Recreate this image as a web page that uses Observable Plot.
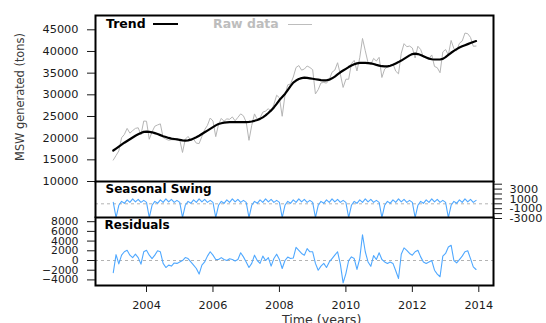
<!DOCTYPE html>
<html>
<head>
<meta charset="utf-8">
<script src="https://cdn.jsdelivr.net/npm/d3@7"></script>
<script src="https://cdn.jsdelivr.net/npm/@observablehq/plot@0.6"></script>
<style>
  body { margin: 0; background: #fff; }
  #chart { position: relative; width: 546px; height: 323px; overflow: hidden; font-family: "DejaVu Sans", sans-serif; background: #fff; }
  #chart svg { position: absolute; left: 0; }
  .lbl { position: absolute; white-space: nowrap; line-height: 1; }
  .key { position: absolute; height: 0; }
</style>
</head>
<body>
<div id="chart"></div>
<script>
// Monthly municipal solid waste series, January 2003 to December 2013,
// split into trend, a repeating seasonal swing and residuals.
const startYear = 2003;

const trend = [
  17150, 17600, 18050, 18500, 18950, 19350, 19750, 20150, 20550, 20900, 21200, 21450,
  21500, 21450, 21350, 21150, 20950, 20700, 20450, 20250, 20050, 19900, 19800, 19700,
  19600, 19500, 19450, 19500, 19650, 19900, 20200, 20550, 20950, 21350, 21750, 22150,
  22550, 22950, 23250, 23450, 23600, 23650, 23700, 23700, 23700, 23700, 23700, 23700,
  23700, 23750, 23850, 24000, 24200, 24450, 24800, 25250, 25800, 26400, 27100, 27900,
  28800, 29500, 30200, 31100, 32000, 32800, 33300, 33650, 33850, 33950, 33900, 33800,
  33700, 33600, 33500, 33400, 33350, 33350, 33500, 33800, 34200, 34700, 35200, 35600,
  36000, 36400, 36750, 37050, 37250, 37350, 37400, 37380, 37320, 37250, 37100, 36900,
  36750, 36600, 36550, 36550, 36700, 36950, 37250, 37550, 37900, 38300, 38700, 39100,
  39400, 39500, 39400, 39200, 38900, 38600, 38350, 38200, 38150, 38150, 38150, 38300,
  38700, 39200, 39700, 40150, 40550, 40900, 41200, 41450, 41700, 41950, 42200, 42400
];

// Seasonal swing, January to December
const seasonalByMonth = [300, -2800, -300, 500, 100, 800, 300, 1000, 400, 900, 300, 700];

const residuals = [
  -2500, 1200, -700, 1100, 1800, 2100, 1100, 600, 1300, 600, -750, 1800,
  2100, 1100, 400, 1100, 2000, 1800, -600, -1450, -950, -1150, -500, -600,
  -300, 0, 600, 400, -300, -950, -1650, -2800, -950, -300, 900, 1800,
  1100, 200, 200, 600, 200, 0, 350, 200, -100, 200, 1600, 750,
  -300, -1450, -600, 1100, 0, -600, 900, 0, 600, -1150, 400, 1300,
  200, -1650, 0, 700, 400, 500, 2700, 2100, 1450, 1100, 2450, 1800,
  1800, -600, -2000, -1150, -600, -1450, -300, 400, 1100, 1800, -750, -4600,
  -2700, 0, 750, 400, -1850, 400, 5300, 1800, -300, -1200, 1000, 200,
  1600, 200, -300, -600, -300, -600, -2100, -3700, 1300, 2600, 2100, 1450,
  1100, 1800, 2100, 750, -300, -600, -300, 0, -2000, -2800, -3350, 900,
  1450, 2800, 3150, 0, -500, 200, 900, 1800, 2000, 400, -1300, -1850
];

const trendTicks = [10000, 15000, 20000, 25000, 30000, 35000, 40000, 45000];
const seasonalTicks = [-3000, -2000, -1000, 0, 1000, 2000, 3000, 4000];
const seasonalTickLabels = [3000, 1000, -1000, -3000];
const residualTicks = [-4000, -2000, 0, 2000, 4000, 6000, 8000];
const yearTicks = [2004, 2006, 2008, 2010, 2012, 2014];

// Additive decomposition: raw = trend + seasonal + residual
const rows = trend.map((v, i) => ({
  t: startYear + i / 12,
  trend: v,
  seasonal: seasonalByMonth[i % 12],
  residual: residuals[i],
  raw: v + seasonalByMonth[i % 12] + residuals[i]
}));

const xDomain = [2002.465, 2014.442];
const fmt = d3.format("d");
const blue = "#4fa8ff";
const plotStyle = {
  fontFamily: "DejaVu Sans, sans-serif",
  fontSize: "11.3px",
  color: "#1a1a1a",
  background: "transparent",
  overflow: "visible"
};
const chart = document.getElementById("chart");

// Panel 1: raw data and trend
const trendPanel = Plot.plot({
  width: 546, height: 181,
  marginLeft: 95, marginRight: 53, marginTop: 15, marginBottom: 0,
  style: plotStyle,
  x: {domain: xDomain, axis: null},
  y: {domain: [10000, 48300]},
  marks: [
    Plot.line(rows, {x: "t", y: "raw", stroke: "#b5b5b5", strokeWidth: 1}),
    Plot.line(rows, {x: "t", y: "trend", stroke: "#000", strokeWidth: 2.2}),
    Plot.axisY({ticks: trendTicks, tickSize: 8, tickPadding: 9, tickFormat: fmt, label: null}),
    Plot.frame({stroke: "#000", strokeWidth: 2})
  ]
});
trendPanel.style.top = "0px";
chart.appendChild(trendPanel);

// Panel 2: seasonal swing, axis on the right
const seasonalPanel = Plot.plot({
  width: 546, height: 37,
  marginLeft: 95, marginRight: 53, marginTop: 0, marginBottom: 0,
  style: plotStyle,
  x: {domain: xDomain, axis: null},
  y: {domain: [-3000, 4550]},
  marks: [
    Plot.ruleY([0], {stroke: "#a0a0a0", strokeWidth: 0.8, strokeDasharray: "3,3"}),
    Plot.line(rows, {x: "t", y: "seasonal", stroke: blue, strokeWidth: 1.1}),
    Plot.ruleX(xDomain, {stroke: "#000", strokeWidth: 2}),
    Plot.axisY({
      anchor: "right", ticks: seasonalTicks, tickSize: 8, tickPadding: 8,
      tickFormat: d => seasonalTickLabels.includes(d) ? String(d) : "", label: null
    }),
    Plot.text(["Seasonal Swing"], {
      frameAnchor: "top-left", text: d => d, dx: 10, dy: 3.2, lineAnchor: "top",
      textAnchor: "start", fontWeight: "bold", fontSize: 12, fill: "#000"
    })
  ]
});
seasonalPanel.style.top = "181px";
chart.appendChild(seasonalPanel);

// Panel 3: residuals with the time axis
const residualPanel = Plot.plot({
  width: 546, height: 106,
  marginLeft: 95, marginRight: 53, marginTop: 0, marginBottom: 38,
  style: plotStyle,
  x: {domain: xDomain},
  y: {domain: [-5150, 8860]},
  marks: [
    Plot.ruleY([0], {stroke: "#a0a0a0", strokeWidth: 0.8, strokeDasharray: "3,3"}),
    Plot.line(rows, {x: "t", y: "residual", stroke: blue, strokeWidth: 1.1}),
    Plot.frame({stroke: "#000", strokeWidth: 2}),
    Plot.axisY({ticks: residualTicks, tickSize: 8, tickPadding: 9, tickFormat: fmt, label: null, fontSize: 10.8}),
    Plot.axisX({ticks: yearTicks, tickSize: 7, tickPadding: 8, tickFormat: fmt, label: null}),
    Plot.text(["Residuals"], {
      frameAnchor: "top-left", text: d => d, dx: 9, dy: 2.8, lineAnchor: "top",
      textAnchor: "start", fontWeight: "bold", fontSize: 12, fill: "#000"
    })
  ]
});
residualPanel.style.top = "217px";
chart.appendChild(residualPanel);

// Legend, axis titles
function addLabel(text, css) {
  const el = document.createElement("div");
  el.className = "lbl";
  el.textContent = text;
  Object.assign(el.style, css);
  chart.appendChild(el);
  return el;
}
function addKey(css) {
  const el = document.createElement("div");
  el.className = "key";
  Object.assign(el.style, css);
  chart.appendChild(el);
}

addLabel("Trend", {left: "106px", top: "17.7px", fontSize: "12.5px", fontWeight: "bold", color: "#000"});
addKey({left: "153px", top: "23px", width: "25px", borderTop: "2px solid #000"});
addLabel("Raw data", {left: "213px", top: "17.7px", fontSize: "12.5px", fontWeight: "bold", color: "#bdbdbd"});
addKey({left: "288px", top: "23.5px", width: "24px", borderTop: "1px solid #bdbdbd"});

const titleAnchor = document.createElement("div");
Object.assign(titleAnchor.style, {position: "absolute", left: "20px", top: "97px", width: "0", height: "0"});
const ytitle = document.createElement("span");
ytitle.textContent = "MSW generated (tons)";
Object.assign(ytitle.style, {
  position: "absolute", left: "0", top: "0", whiteSpace: "nowrap", lineHeight: "1",
  fontSize: "11.4px", color: "#3a3a3a",
  transform: "translate(-50%, -50%) rotate(-90deg) scaleY(1.15)"
});
titleAnchor.appendChild(ytitle);
chart.appendChild(titleAnchor);

addLabel("Time (years)", {left: "282px", top: "314.3px", fontSize: "12.6px", color: "#333"});
</script>
</body>
</html>
